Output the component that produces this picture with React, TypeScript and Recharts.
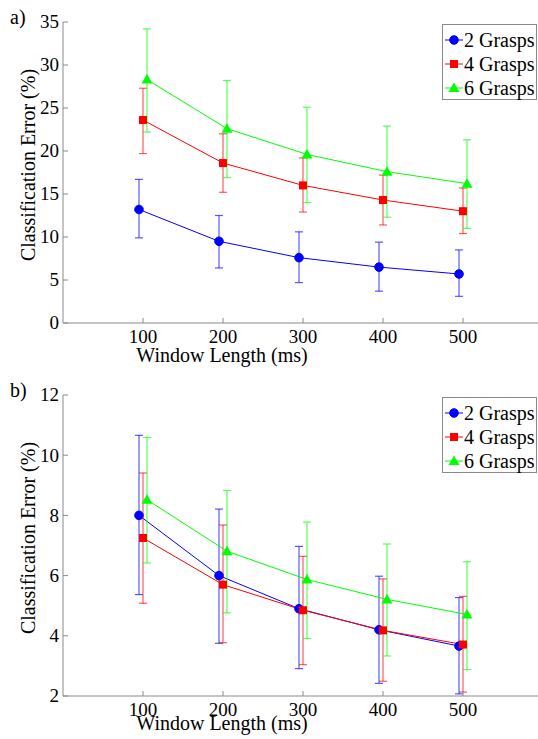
import { ErrorBar, Legend, Line, LineChart, XAxis, YAxis } from 'recharts'

const windowLengths = [100, 200, 300, 400, 500]
const seriesNames = ['2 Grasps', '4 Grasps', '6 Grasps']
const seriesColors = ['#0000ff', '#ff0000', '#00ff00']
const xShift = [-5, 0, 5]

// panel a) means and error bar ends
const aMean2 = [13.2, 9.5, 7.6, 6.5, 5.7]
const aLow2 = [9.9, 6.4, 4.7, 3.7, 3.1]
const aHigh2 = [16.7, 12.5, 10.6, 9.4, 8.5]
const aMean4 = [23.6, 18.6, 16.0, 14.3, 13.0]
const aLow4 = [19.7, 15.2, 12.9, 11.4, 10.4]
const aHigh4 = [27.3, 22.0, 19.2, 17.2, 15.7]
const aMean6 = [28.3, 22.6, 19.6, 17.6, 16.2]
const aLow6 = [22.2, 16.9, 14.0, 12.3, 11.0]
const aHigh6 = [34.2, 28.2, 25.1, 22.9, 21.3]

// panel b)
const bMean2 = [8.0, 6.0, 4.9, 4.2, 3.66]
const bLow2 = [5.37, 3.75, 2.91, 2.42, 2.07]
const bHigh2 = [10.66, 8.21, 6.97, 5.98, 5.27]
const bMean4 = [7.25, 5.7, 4.85, 4.18, 3.71]
const bLow4 = [5.08, 3.77, 3.04, 2.49, 2.13]
const bHigh4 = [9.41, 7.68, 6.64, 5.89, 5.31]
const bMean6 = [8.52, 6.81, 5.87, 5.21, 4.71]
const bLow6 = [6.42, 4.76, 3.91, 3.33, 2.88]
const bHigh6 = [10.59, 8.83, 7.78, 7.05, 6.46]

const aTicks = [0, 5, 10, 15, 20, 25, 30, 35]
const bTicks = [2, 4, 6, 8, 10, 12]

// font lists did not resolve in the renderer, so one name only
const FONT = 'Liberation Serif'
const AXIS = '#8a8a8a'

type Row = { x: number; y: number; err: [number, number] }

const buildRows = (mean: number[], low: number[], high: number[], shift: number): Row[] =>
  windowLengths.map((w, i) => ({
    x: w + shift,
    y: mean[i],
    err: [mean[i] - low[i], high[i] - mean[i]],
  }))

const marker = (idx: number, cx: number, cy: number, key?: any) => {
  const c = seriesColors[idx]
  if (idx === 0) return <circle key={key} cx={cx} cy={cy} r={4.3} fill={c} stroke={c} />
  if (idx === 1) return <rect key={key} x={cx - 4} y={cy - 4} width={8} height={8} fill={c} />
  return (
    <polygon
      key={key}
      points={`${cx},${cy - 5.5} ${cx - 5.5},${cy + 4} ${cx + 5.5},${cy + 4}`}
      fill={c}
    />
  )
}

const XTick = ({ x, y, payload }: any) => (
  <g>
    <line x1={x} x2={x} y1={y} y2={y - 5} stroke={AXIS} />
    <text x={x} y={y + 7} dy="0.71em" textAnchor="middle" fontFamily={FONT} fontSize={19} fill="#000">
      {payload.value}
    </text>
  </g>
)

const YTick = ({ x, y, payload }: any) => (
  <g>
    <line x1={x} x2={x + 5} y1={y} y2={y} stroke={AXIS} />
    <text x={x - 4} y={y} dy="0.34em" textAnchor="end" fontFamily={FONT} fontSize={19} fill="#000">
      {payload.value}
    </text>
  </g>
)

const LegendBox = () => (
  <div
    style={{
      width: 95,
      height: 76,
      border: `1px solid ${AXIS}`,
      boxSizing: 'border-box',
      background: '#fff',
      paddingTop: 3,
      fontFamily: FONT,
      fontSize: 20,
    }}
  >
    {seriesNames.map((name, i) => (
      <div key={name} style={{ display: 'flex', alignItems: 'center', height: 24 }}>
        <svg width={21} height={14} style={{ flex: 'none' }}>
          <line x1={2} x2={20} y1={7} y2={7} stroke={seriesColors[i]} />
          {marker(i, 11, 7)}
        </svg>
        <span style={{ lineHeight: '24px', whiteSpace: 'nowrap' }}>{name}</span>
      </div>
    ))}
  </div>
)

type PanelProps = {
  top: number
  tag: string
  rows: Row[][]
  yDomain: [number, number]
  yTicks: number[]
  xLabelTop: number
}

function Panel({ top, tag, rows, yDomain, yTicks, xLabelTop }: PanelProps) {
  return (
    <div style={{ position: 'absolute', left: 0, top, width: 560, height: 371 }}>
      <LineChart width={560} height={371} margin={{ top: 22, right: 17, left: 0, bottom: 6 }}>
        <XAxis
          dataKey="x"
          type="number"
          domain={[0, 600]}
          ticks={windowLengths}
          allowDataOverflow
          height={42}
          tickSize={0}
          tickMargin={0}
          tickLine={false}
          axisLine={{ stroke: AXIS }}
          tick={<XTick />}
        />
        <YAxis
          type="number"
          domain={yDomain}
          ticks={yTicks}
          allowDataOverflow
          width={63}
          tickSize={0}
          tickMargin={0}
          tickLine={false}
          axisLine={{ stroke: AXIS }}
          tick={<YTick />}
          interval={0}
        />
        {rows.map((data, i) => (
          <Line
            key={seriesNames[i]}
            name={seriesNames[i]}
            data={data}
            dataKey="y"
            stroke={seriesColors[i]}
            strokeWidth={1}
            isAnimationActive={false}
            activeDot={false}
            dot={(p: any) => marker(i, p.cx, p.cy, `${tag}-${i}-${p.index}`)}
          >
            <ErrorBar
              dataKey="err"
              width={4}
              stroke={seriesColors[i]}
              strokeOpacity={0.65}
              strokeWidth={1.2}
              isAnimationActive={false}
            />
          </Line>
        ))}
        <Legend
          layout="vertical"
          align="center"
          verticalAlign="middle"
          wrapperStyle={{ top: 24, left: 442, width: 95 }}
          content={() => <LegendBox />}
        />
      </LineChart>
      <div
        style={{ position: 'absolute', left: 10, top: 6, fontFamily: FONT, fontSize: 20, lineHeight: '22px' }}
      >
        {tag}
      </div>
      <div
        style={{
          position: 'absolute',
          left: 28,
          top: 165,
          transform: 'translate(-50%, -50%) rotate(-90deg)',
          fontFamily: FONT,
          fontSize: 20,
          whiteSpace: 'nowrap',
          lineHeight: '22px',
        }}
      >
        Classification Error (%)
      </div>
      <div
        style={{
          position: 'absolute',
          left: 222,
          top: xLabelTop,
          transform: 'translateX(-50%)',
          fontFamily: FONT,
          fontSize: 20,
          whiteSpace: 'nowrap',
          lineHeight: '14px',
        }}
      >
        Window Length (ms)
      </div>
    </div>
  )
}

export default function App() {
  const aRows = [
    buildRows(aMean2, aLow2, aHigh2, xShift[0]),
    buildRows(aMean4, aLow4, aHigh4, xShift[1]),
    buildRows(aMean6, aLow6, aHigh6, xShift[2]),
  ]
  const bRows = [
    buildRows(bMean2, bLow2, bHigh2, xShift[0]),
    buildRows(bMean4, bLow4, bHigh4, xShift[1]),
    buildRows(bMean6, bLow6, bHigh6, xShift[2]),
  ]
  return (
    <>
      <style>{'body{margin:0;overflow:hidden;background:#fff}'}</style>
      <div style={{ position: 'relative', width: 538, height: 739, overflow: 'hidden', background: '#fff' }}>
        <Panel top={0} tag="a)" rows={aRows} yDomain={[0, 35]} yTicks={aTicks} xLabelTop={348} />
        <Panel top={373} tag="b)" rows={bRows} yDomain={[2, 12]} yTicks={bTicks} xLabelTop={343} />
      </div>
    </>
  )
}
